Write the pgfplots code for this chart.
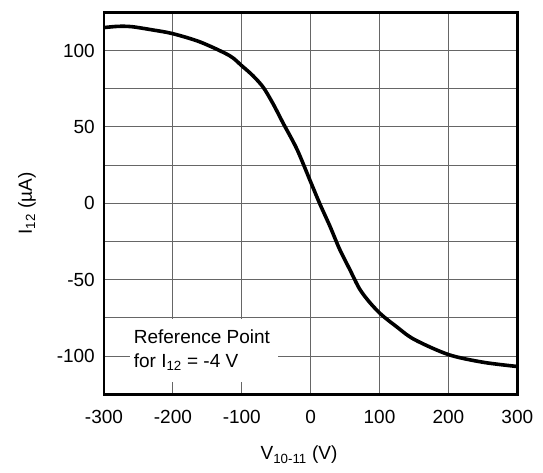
\documentclass[border=0pt]{standalone}
\usepackage{fontspec}
\setmainfont{Liberation Sans}
\usepackage{pgfplots}
\pgfplotsset{compat=1.18}
\begin{document}
\fontsize{19pt}{23pt}\selectfont
\begin{tikzpicture}
\useasboundingbox (-104pt,-77.7pt) rectangle (439pt,394.3pt);
\begin{axis}[
 at={(0pt,0pt)}, anchor=south west,
 scale only axis, width=413.3pt, height=382pt,
 xmin=-300, xmax=300, ymin=-125, ymax=125,
 xtick={-300,-200,-100,0,100,200,300},
 xticklabels={-300,-200,-100,0,100,200,300},
 ytick={-100,-50,0,50,100},
 yticklabels={-100,-50,0,50,100},
 minor ytick={-75,-25,25,75},
 grid=both,
 major grid style={black!60, line width=0.9pt},
 minor grid style={black!60, line width=0.9pt},
 major tick length=0pt, minor tick length=0pt,
 axis line style={line width=2.6pt},
 tick label style={font=\fontsize{19pt}{23pt}\selectfont},
 yticklabel style={anchor=east, inner sep=0pt, xshift=-9pt},
 xticklabel style={anchor=north, inner sep=0pt, yshift=-15.5pt},
 xlabel={V\textsubscript{10-11} (V)},
 ylabel={I\textsubscript{12} (µA)},
 label style={font=\fontsize{19pt}{23pt}\selectfont},
 xlabel style={at={(axis description cs:0.472,0)}, anchor=center, yshift=-60.7pt},
 ylabel style={at={(axis description cs:0,0.5)}, anchor=center, yshift=77pt},
]
\fill[white] (axis cs:-262.7,-75.8) rectangle (axis cs:-47.9,-116.9);
\node[anchor=west, inner sep=0pt] at (axis cs:-257,-87.6) {Reference Point};
\node[anchor=west, inner sep=0pt] at (axis cs:-257,-103.8) {for I\textsubscript{12} = -4 V};
\addplot[black, line width=3.6pt, smooth, tension=0.5] coordinates {
(-300,115) (-280,115.8) (-260,115.6) (-230,113.5) (-200,111) (-160,105.5)
(-118,96.7) (-100,90) (-84,83.6) (-69,76) (-55,65.5) (-40,52.5) (-20,35.5)
(0,14) (13,0) (28,-15) (42,-30) (57,-43.5) (71,-56) (86,-65) (103,-73)
(124,-80.5) (150,-89) (200,-99) (250,-104) (300,-106.8)
};
\end{axis}
\end{tikzpicture}
\end{document}
